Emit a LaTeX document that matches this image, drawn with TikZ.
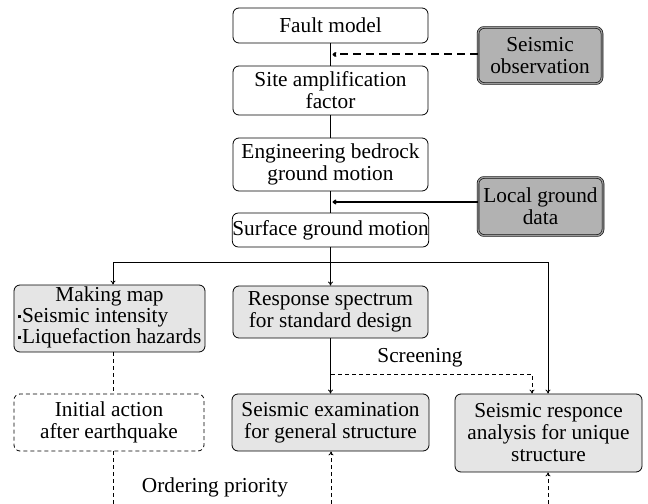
\documentclass[tikz,border=0pt]{standalone}
\usepackage{fontspec}
\setmainfont{Liberation Serif}
\usetikzlibrary{arrows.meta,calc}
\newcommand\sqbul{\rule[0.22em]{3bp}{3bp}\hspace{1.5bp}}
\begin{document}
\begin{tikzpicture}[x=1bp,y=-1bp,
  txt/.style={font=\fontsize{21.3bp}{22bp}\selectfont},
  box/.style={txt, draw, line width=0.8pt, rounded corners=6bp, align=center, inner sep=0pt},
  sz/.style 2 args={minimum width=#1bp, minimum height=#2bp},
  wbox/.style={box, fill=white},
  gbox/.style={box, fill=black!10},
  dbox/.style={box, fill=black!30, double=black!40, double distance=1.3pt, line width=0.6pt},
  dashbox/.style={box, dash pattern=on 4bp off 3bp},
  ln/.style={line width=0.8pt},
  arr/.style={ln, -{To[length=4bp,width=5bp]}},
  dln/.style={ln, dash pattern=on 4bp off 3bp},
  darr/.style={dln, -{To[length=4bp,width=5bp]}},
]
\useasboundingbox (0,0) rectangle (648,504);

% top column
\node[wbox, sz={195}{35}] (fault) at (330.5,25.5) {Fault model};
\node[wbox, sz={195}{49}] (site) at (330.5,90.5) {Site amplification\\factor};
\node[wbox, sz={195}{53}] (bed) at (330.5,164.5) {Engineering bedrock\\ground motion};
\node[wbox, sz={195}{34}] (surf) at (330.5,230) {Surface ground motion};
\node[dbox, sz={124}{56}] (obs) at (540,55.5) {Seismic\\observation};
\node[dbox, sz={125}{58}] (local) at (540.5,206.5) {Local ground\\data};

% middle row
\node[gbox, sz={191}{67}] (map) at (109.5,318.5) {%
  \begin{tabular}{@{}l@{}}\multicolumn{1}{@{}c@{}}{Making map}\\[-1bp]
  \sqbul Seismic intensity\\[-1bp]
  \sqbul Liquefaction hazards\end{tabular}};
\node[gbox, sz={195}{52}] (spec) at (330.5,312) {Response spectrum\\for standard design};

% bottom row
\node[dashbox, sz={190}{57}] (init) at (109,422.5) {Initial action\\after earthquake};
\node[gbox, sz={197}{57}] (exam) at (330.5,422.5) {Seismic examination\\for general structure};
\node[gbox, sz={187}{78}] (resp) at (548.5,433) {Seismic responce\\analysis for unique\\structure};

% connectors top
\coordinate (m1) at ($(fault.south)!0.5!(site.north)$);
\draw[ln] (fault.south) -- (site.north);
\draw[line width=2bp, dash pattern=on 8bp off 5bp, -{To[length=4bp,width=5bp]}] (m1 -| obs.west) -- ($(m1)+(2,0)$);
\draw[ln] (site.south) -- (bed.north);
\coordinate (m2) at ($(bed.south)!0.5!(surf.north)$);
\draw[ln] (bed.south) -- (surf.north);
\draw[line width=1.6bp, -{To[length=4bp,width=5bp]}] (m2 -| local.west) -- ($(m2)+(2,0)$);

% distribution
\coordinate (hl) at (113,262);
\coordinate (hr) at (548,262);
\draw[ln] (hl) -- (hr);
\draw[arr] (hl) -- (hl |- map.north);
\draw[arr] (hr) -- (hr |- resp.north);
\draw[arr] (surf.south) -- (spec.north);

% screening
\draw[arr] (spec.south) -- (exam.north);
\coordinate (s1) at (331,374);
\coordinate (s2) at (532,374);
\draw[darr] (s1) -- (s2) -- (s2 |- resp.north);
\node[txt] (scr) at (420,358) {Screening};

% dashed lower links
\draw[dln] (hl |- map.south) -- (hl |- init.north);
\coordinate (b1) at (113,504);
\coordinate (b2) at (331,504);
\coordinate (b3) at (548,504);
\draw[dln] (b1 |- init.south) -- (b1);
\draw[darr] (b2) -- (b2 |- exam.south);
\draw[darr] (b3) -- (b3 |- resp.south);
\node[txt] (ord) at (215,487) {Ordering priority};
\end{tikzpicture}
\end{document}
